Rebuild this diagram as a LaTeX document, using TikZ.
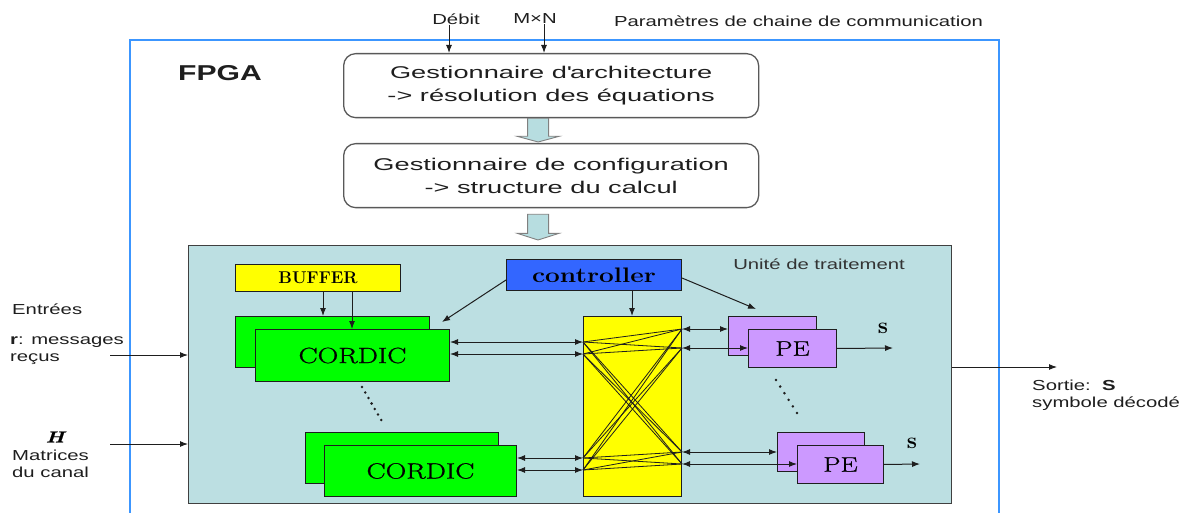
\documentclass[tikz,border=0pt]{standalone}
\usepackage{fontspec}
\usetikzlibrary{calc,arrows.meta}
\newfontfamily\wsans[FakeStretch=1.4]{Liberation Sans}
\newfontfamily\bsans[FakeStretch=1.6]{Liberation Sans}
\newfontfamily\wserif[FakeStretch=1.3,FakeBold=0.8]{Latin Modern Roman}
\newfontfamily\cserif[FakeStretch=1.25]{Latin Modern Roman}
\definecolor{fblue}{RGB}{60,150,255}
\definecolor{pufill}{RGB}{188,223,226}
\definecolor{ygold}{RGB}{255,255,0}
\definecolor{cgreen}{RGB}{0,255,0}
\definecolor{cblue}{RGB}{51,102,255}
\definecolor{pviolet}{RGB}{204,153,255}
\definecolor{fatfill}{RGB}{183,221,224}
\definecolor{ink}{RGB}{30,30,30}
\begin{document}
\begin{tikzpicture}[x=1pt,y=-1pt,
  blk/.style={draw=ink, line width=1pt, inner sep=0pt, anchor=north west},
  rbox/.style={draw=black!65, line width=1.3pt, rounded corners=12pt, inner sep=0pt,
    anchor=north west, minimum width=415pt, minimum height=64pt, align=center,
    font=\bsans\fontsize{17}{23}\selectfont, text=ink},
  arr/.style={-{Latex[length=8pt,width=6pt]}, line width=1pt, draw=ink},
  darr/.style={{Latex[length=8pt,width=6pt]}-{Latex[length=8pt,width=6pt]}, line width=1pt, draw=ink},
  lbl/.style={font=\wsans\fontsize{14.5}{17}\selectfont, text=ink, inner sep=0pt},
  fat/.style={draw=black!50, fill=fatfill, line width=0.9pt},
  cord/.style={blk, fill=cgreen, font=\wserif\fontsize{22}{24}\selectfont},
  pebox/.style={blk, fill=pviolet, font=\wserif\fontsize{21}{22}\selectfont},
  sl/.style={font=\bfseries\fontsize{23}{23}\selectfont, inner sep=0pt},
  xline/.style={line width=0.8pt, draw=ink}
]
\useasboundingbox (0,0) rectangle (1183,513);
% FPGA frame
\draw[fblue, line width=2.8pt] (130,513) -- (130,40) -- (999,40) -- (999,513);
% top labels
\node[lbl] (debit) at (456,19) {Débit};
\node[lbl] (mxn) at (535,19) {M×N};
\node[lbl] (params) at (798.5,21) {Paramètres de chaine de communication};
\node[font=\wsans\bfseries\fontsize{21.5}{24}\selectfont, text=ink, inner sep=0pt] (fpga) at (220,73) {FPGA};
% managers
\node[rbox] (box1) at (343,53) {Gestionnaire d\textquotesingle architecture\\-> résolution des équations};
\node[rbox] (box2) at (343,143) {Gestionnaire de configuration\\-> structure du calcul};
\draw[arr] ($(debit.south)+(-7,0)$) -- ($(box1.north west)+(106,0)$);
\draw[arr] ($(mxn.south)+(9,0)$) -- ($(box1.north west)+(201,0)$);
% fat arrows
\coordinate (fa1) at ($(box1.south)+(-13,0)$);
\draw[fat] ($(fa1)+(-10.5,0)$) -- ($(fa1)+(-10.5,18)$) -- ($(fa1)+(-21,18)$) -- ($(box2.north)+(-13,-1)$)
  -- ($(fa1)+(21,18)$) -- ($(fa1)+(10.5,18)$) -- ($(fa1)+(10.5,0)$) -- cycle;
% processing unit
\node[blk, fill=pufill, draw=black!75, minimum width=763pt, minimum height=258pt] (pu) at (188,245) {};
\coordinate (fa2) at ($(box2.south)+(-13,6)$);
\draw[fat] ($(fa2)+(-10.5,0)$) -- ($(fa2)+(-10.5,19)$) -- ($(fa2)+(-21,19)$) -- ($(pu.north)+(-32,-5)$)
  -- ($(fa2)+(21,19)$) -- ($(fa2)+(10.5,19)$) -- ($(fa2)+(10.5,0)$) -- cycle;
\node[lbl, text=black!80] (unite) at (819,264) {Unité de traitement};
% buffer and controller
\node[blk, fill=ygold, minimum width=165pt, minimum height=27pt, font=\bfseries\fontsize{17}{18}\selectfont] (buf) at (235,264) {BUFFER};
\node[blk, fill=cblue, minimum width=175pt, minimum height=31pt, font=\cserif\bfseries\fontsize{21}{22}\selectfont] (ctrl) at (506,259) {controller};
% CORDIC blocks
\node[cord, minimum width=194pt, minimum height=51pt] (cAb) at (235,316) {};
\node[cord, minimum width=194pt, minimum height=52pt] (cAf) at (255,329) {CORDIC};
\node[cord, minimum width=193pt, minimum height=51pt] (cBb) at (305,432) {};
\node[cord, minimum width=192pt, minimum height=51pt] (cBf) at (324,445) {CORDIC};
% crossbar
\node[blk, fill=ygold, minimum width=98pt, minimum height=180pt] (xbar) at (583,316) {};
% PE blocks
\node[pebox, minimum width=88pt, minimum height=39pt] (peAb) at (728,316) {};
\node[pebox, minimum width=88pt, minimum height=38pt] (peAf) at (748,329) {PE};
\node[pebox, minimum width=87pt, minimum height=39pt] (peBb) at (777,432) {};
\node[pebox, minimum width=86pt, minimum height=38pt] (peBf) at (797,445) {PE};
\node[sl] (s1) at (883,328) {s};
\node[sl] (s2) at (912,443) {s};
% crossbar internal lines
\coordinate (L1) at ($(xbar.north west)+(0,26)$);
\coordinate (L2) at ($(xbar.north west)+(0,38)$);
\coordinate (L3) at ($(xbar.north west)+(0,142)$);
\coordinate (L4) at ($(xbar.north west)+(0,154)$);
\coordinate (R1) at ($(xbar.north east)+(0,13)$);
\coordinate (R2) at ($(xbar.north east)+(0,32)$);
\coordinate (R3) at ($(xbar.north east)+(0,136)$);
\coordinate (R4) at ($(xbar.north east)+(0,148)$);
\foreach \l in {L1,L2,L3,L4} {\foreach \r in {R1,R2,R3,R4} {\draw[xline] (\l) -- (\r);}}
% buffer arrows
\draw[arr] ($(buf.south west)+(88,0)$) -- ($(cAb.north west)+(88,0)$);
\draw[arr] ($(buf.south west)+(117,0)$) -- ($(cAf.north west)+(97,0)$);
% controller arrows
\draw[arr] ($(ctrl.south west)+(0,-11)$) -- ($(cAb.north east)+(12,6)$);
\draw[arr] ($(ctrl.south west)+(126,0)$) -- ($(xbar.north west)+(49,0)$);
\draw[arr] ($(ctrl.north east)+(0,19)$) -- ($(peAb.north west)+(28,-7)$);
% CORDIC <-> crossbar
\draw[darr] ($(cAf.north east)+(0,13)$) -- (L1);
\draw[darr] ($(cAf.north east)+(0,25)$) -- (L2);
\draw[darr] ($(cBf.north east)+(0,13)$) -- (L3);
\draw[darr] ($(cBf.north east)+(0,25)$) -- (L4);
% crossbar <-> PE
\draw[darr] (R1) -- ($(peAb.north west)+(0,13)$);
\draw[darr] (R2) -- ($(peAf.north west)+(0,19)$);
\draw[darr] (R3) -- ($(peBb.north west)+(0,20)$);
\draw[darr] (R4) -- ($(peBf.north west)+(0,19)$);
% PE outputs
\coordinate (oA) at (893,348);
\coordinate (oB) at (920,464);
\draw[arr] (peAf.east) -- (oA);
\draw[arr] (peBf.east) -- (oB);
% dots
\foreach \i in {0,...,6} {\fill[ink] (362+\i*3.2, 387+\i*5.5) circle (1.4pt);}
\foreach \i in {0,...,5} {\fill[ink] (776+\i*4.2, 380+\i*6.6) circle (1.4pt);}
% inputs
\node[lbl, anchor=west] (entrees) at (12,309) {Entrées};
\node[lbl, anchor=west, align=left] (rlab) at (10,350.5) {{\bfseries r}: messages\\reçus};
\node[font=\wserif\bfseries\itshape\fontsize{16}{16}\selectfont, inner sep=0pt] (hlab) at (55,437) {H};
\node[lbl, anchor=west, align=left] (mat) at (12,464) {Matrices\\du canal};
\coordinate (inR) at (110,355);
\coordinate (inH) at (110,444);
\draw[arr] (inR) -- ($(pu.north west)+(0,110)$);
\draw[arr] (inH) -- ($(pu.north west)+(0,199)$);
% output
\coordinate (outS) at (1057,367);
\draw[arr] ($(pu.north east)+(0,122)$) -- (outS);
\node[lbl, anchor=west, align=left] (sortie) at (1032,395) {Sortie:\ \ {\bfseries S}\\symbole décodé};
\end{tikzpicture}
\end{document}
